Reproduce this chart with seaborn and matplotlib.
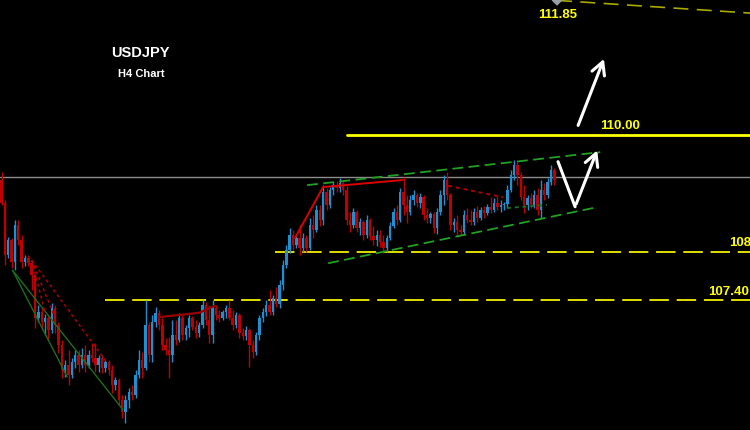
import numpy as np
import pandas as pd
import seaborn as sns
from matplotlib import pyplot as plt

# USDJPY H4 candles (open of each bar = previous close)
first_open = 109.29
closes = [108.93, 108.11, 108.35, 108.00, 108.58, 108.35, 108.00, 108.06, 107.98, 107.80,
          107.12, 107.21, 107.06, 107.12, 106.93, 107.27, 107.01, 106.69, 106.30, 106.38,
          106.22, 106.43, 106.54, 106.38, 106.54, 106.38, 106.54, 106.49, 106.38, 106.49,
          106.33, 106.43, 106.30, 106.06, 106.14, 105.83, 105.64, 105.83, 105.95, 105.90,
          106.22, 106.46, 106.33, 107.01, 106.54, 107.06, 107.20, 107.01, 106.69, 106.61,
          106.54, 106.85, 106.77, 107.12, 106.85, 106.96, 107.12, 106.98, 106.88, 107.01,
          107.32, 107.09, 106.85, 107.27, 107.17, 107.12, 107.21, 107.27, 107.12, 107.01,
          107.17, 106.88, 106.83, 106.93, 106.69, 106.58, 106.85, 107.12, 107.21, 107.32,
          107.21, 107.43, 107.34, 107.64, 107.95, 108.19, 108.43, 108.27, 108.38, 108.22,
          108.38, 108.22, 108.58, 108.50, 108.82, 108.66, 109.10, 108.90, 109.13, 109.21,
          109.17, 109.24, 109.13, 108.66, 108.58, 108.79, 108.54, 108.63, 108.43, 108.66,
          108.41, 108.35, 108.43, 108.32, 108.22, 108.38, 108.57, 108.79, 108.66, 109.10,
          108.90, 108.79, 108.98, 109.06, 108.93, 109.02, 108.74, 108.69, 108.76, 108.54,
          108.79, 109.06, 109.29, 109.06, 108.58, 108.63, 108.50, 108.47, 108.74, 108.66,
          108.63, 108.79, 108.69, 108.82, 108.77, 108.87, 108.82, 108.93, 108.87, 108.90,
          108.91, 109.13, 109.37, 109.53, 109.37, 109.02, 108.90, 109.01, 108.90, 109.06,
          108.82, 109.13, 109.06, 109.26, 109.45, 109.29]
highs = [109.42, 108.98, 108.39, 108.38, 108.66, 108.66, 108.43, 108.11, 108.11, 108.03,
         107.80, 107.32, 107.27, 107.18, 107.17, 107.35, 107.32, 107.06, 106.77, 106.46,
         106.61, 106.49, 106.61, 106.61, 106.64, 106.69, 106.61, 106.72, 106.72, 106.54,
         106.54, 106.46, 106.46, 106.38, 106.19, 106.17, 105.90, 105.90, 106.02, 106.06,
         106.30, 106.61, 106.58, 107.40, 107.06, 107.17, 107.29, 107.24, 107.12, 106.80,
         106.82, 107.09, 107.09, 107.20, 107.17, 107.01, 107.17, 107.15, 107.09, 107.06,
         107.40, 107.37, 107.32, 107.40, 107.32, 107.24, 107.24, 107.32, 107.40, 107.24,
         107.21, 107.20, 106.96, 106.99, 106.96, 106.77, 106.90, 107.17, 107.27, 107.40,
         107.56, 107.48, 107.61, 107.72, 108.03, 108.27, 108.54, 108.50, 108.43, 108.58,
         108.46, 108.43, 108.69, 108.74, 108.90, 108.90, 109.21, 109.17, 109.18, 109.26,
         109.28, 109.32, 109.28, 109.20, 108.79, 108.85, 108.82, 108.69, 108.66, 108.74,
         108.69, 108.57, 108.50, 108.50, 108.43, 108.43, 108.63, 108.85, 108.90, 109.17,
         109.34, 109.06, 109.06, 109.13, 109.09, 109.09, 109.06, 108.85, 108.79, 108.79,
         108.85, 109.13, 109.37, 109.42, 109.09, 108.69, 108.74, 108.58, 108.82, 108.85,
         108.82, 108.85, 108.88, 108.87, 108.88, 108.91, 109.02, 109.01, 109.04, 108.98,
         108.94, 109.21, 109.45, 109.61, 109.58, 109.42, 109.21, 109.06, 109.09, 109.13,
         109.17, 109.29, 109.24, 109.32, 109.53, 109.48]
lows = [108.90, 107.95, 108.06, 107.91, 107.87, 108.27, 107.91, 107.94, 107.94, 107.56,
        106.96, 107.06, 106.93, 106.85, 106.77, 106.88, 106.88, 106.57, 106.17, 106.19,
        106.06, 106.17, 106.33, 106.27, 106.33, 106.27, 106.33, 106.43, 106.27, 106.27,
        106.25, 106.27, 106.22, 105.94, 105.98, 105.75, 105.54, 105.46, 105.70, 105.83,
        105.86, 106.17, 106.17, 106.30, 106.43, 106.43, 106.98, 106.93, 106.61, 106.54,
        106.17, 106.43, 106.69, 106.74, 106.77, 106.77, 106.82, 106.93, 106.80, 106.82,
        106.96, 107.01, 106.72, 106.72, 107.09, 107.06, 107.09, 107.12, 107.09, 106.93,
        106.96, 106.80, 106.77, 106.77, 106.35, 106.49, 106.54, 106.77, 107.06, 107.15,
        107.17, 107.17, 107.29, 107.27, 107.56, 107.91, 108.14, 108.19, 108.22, 108.11,
        108.16, 108.16, 108.19, 108.38, 108.47, 108.57, 108.58, 108.82, 108.85, 109.06,
        109.10, 109.10, 109.06, 108.58, 108.47, 108.54, 108.47, 108.43, 108.35, 108.38,
        108.35, 108.27, 108.25, 108.24, 108.14, 108.16, 108.35, 108.54, 108.58, 108.63,
        108.74, 108.61, 108.74, 108.90, 108.87, 108.85, 108.66, 108.61, 108.61, 108.46,
        108.44, 108.74, 108.90, 108.98, 108.50, 108.47, 108.41, 108.43, 108.43, 108.61,
        108.58, 108.58, 108.63, 108.66, 108.69, 108.74, 108.77, 108.79, 108.82, 108.79,
        108.82, 108.85, 109.10, 109.29, 109.21, 108.98, 108.77, 108.82, 108.85, 108.85,
        108.74, 108.69, 108.98, 109.01, 109.21, 109.21]

# horizontal levels
level_resist = 110.00
level_mid = 108.15
level_low = 107.40
level_grey = 109.34
level_target = 111.85

# trend / channel lines: (bar, price) pairs
channel_top = [(91.2, 109.21), (178.7, 109.73)]
channel_bottom = [(97.5, 107.98), (176.6, 108.85)]
wedge_a = [(3.3, 107.87), (19.6, 106.19)]
wedge_b = [(3.3, 107.87), (36.3, 105.67)]
fan_lines = [[(9.0, 108.03), (13.0, 107.21)],
             [(9.0, 108.03), (16.0, 107.12)],
             [(9.0, 108.03), (32.4, 106.35)]]
base_line = [(46.7, 107.13), (59.0, 107.20), (63.7, 107.31)]
rally_line = [(87.6, 108.38), (96.0, 109.18), (119.6, 109.29)]
dip_line = [(133.3, 109.20), (149.7, 109.02)]
flat_dots = [(150.9, 108.85), (162.8, 108.90)]
target_line = [(165.8, 112.12), (223.4, 111.92)]
arrow_up = [(171.8, 110.11), (180.1, 111.24)]
arrow_v = [(166.1, 109.58), (171.2, 108.87), (178.1, 109.80)]

BLUE = '#1e8fd0'
RED = '#c00000'
YELLOW = '#ffff00'

sns.set_theme(style='dark', rc={'axes.facecolor': 'black', 'figure.facecolor': 'black'})
plt.rcParams['font.family'] = ['Liberation Sans', 'DejaVu Sans']

df = pd.DataFrame({'close': closes, 'high': highs, 'low': lows})
df['open'] = [first_open] + closes[:-1]
df['bar'] = np.arange(len(df))
df['up'] = df['close'] >= df['open']

fig = plt.figure(figsize=(7.5, 4.3), dpi=100)
ax = fig.add_axes([0, 0, 1, 1])
ax.set_facecolor('black')

x_max = 223.4
ax.set_xlim(-0.45, x_max)
ax.set_ylim(105.354, 112.126)

# grey reference line and levels
ax.axhline(level_grey, color='#8c8c8c', lw=1)
ax.plot([103.1, x_max], [level_resist] * 2, color=YELLOW, lw=2)
ax.plot([81.6, x_max], [level_mid] * 2, color='#e0e000', lw=1.4, ls=(0, (10, 4)))
ax.plot([30.9, x_max], [level_low] * 2, color='#e0e000', lw=1.4, ls=(0, (10, 4)))
ax.plot(*zip(*target_line), color='#a8a800', lw=1.2, ls=(0, (9, 5)))
sns.scatterplot(x=[target_line[0][0]], y=[target_line[0][1]], marker='D', s=30,
                color='#9aa0a8', edgecolor='none', ax=ax, zorder=5)

# candles
colors = np.where(df['up'], BLUE, RED)
ax.vlines(df['bar'], df['low'], df['high'], colors=colors, lw=1, zorder=3)
body = (df['close'] - df['open']).abs().clip(lower=0.012)
ax.bar(df['bar'], body, bottom=df[['open', 'close']].min(axis=1), width=0.72,
       color=colors, linewidth=0, zorder=3)

# pattern lines
for seg in (channel_top, channel_bottom):
    ax.plot(*zip(*seg), color='#22a022', lw=1.3, ls=(0, (6, 3)), zorder=4)
for seg in (wedge_a, wedge_b):
    ax.plot(*zip(*seg), color='#1d6e1d', lw=1, zorder=4)
for seg in fan_lines:
    ax.plot(*zip(*seg), color='#b00000', lw=1.1, ls=(0, (2, 2)), zorder=4)
ax.plot(*zip(*base_line), color='#990000', lw=1.6, zorder=4)
ax.plot(*zip(*rally_line), color='#dd0000', lw=1.4, zorder=4)
ax.plot(*zip(*dip_line), color='#b00000', lw=1.4, ls=(0, (2, 2)), zorder=4)
ax.plot(*zip(*flat_dots), color='#1d6e1d', lw=1.4, ls=(0, (2, 2)), zorder=4)

# projected moves
arrow_kw = dict(arrowstyle='->,head_length=0.75,head_width=0.4', color='white', lw=2.2)
ax.annotate('', xy=arrow_up[1], xytext=arrow_up[0], arrowprops=arrow_kw, zorder=6)
ax.plot(*zip(*arrow_v[:2]), color='white', lw=2.2, zorder=6)
ax.annotate('', xy=arrow_v[2], xytext=arrow_v[1], arrowprops=arrow_kw, zorder=6)

# labels (the 108.15 tag runs off the right edge, as in the source chart)
lab = dict(color=YELLOW, fontsize=9.5, fontweight='bold', va='center', ha='left')
ax.text(160.2, level_target + 0.04, f'{level_target:.2f}', **lab)
ax.text(178.7, level_resist + 0.14, f'{level_resist:.2f}', **lab)
ax.text(217.2, level_mid + 0.15, f'{level_mid:.2f}', **lab)
ax.text(x_max - 0.3, level_low + 0.13, f'{level_low:.2f}', ha='right',
        **{k: v for k, v in lab.items() if k != 'ha'})

ax.text(0.187, 0.877, 'USDJPY', transform=ax.transAxes, color='white',
        fontsize=10.5, fontweight='bold', ha='center', va='center')
ax.text(0.188, 0.828, 'H4 Chart', transform=ax.transAxes, color='white',
        fontsize=8, fontweight='bold', ha='center', va='center')

ax.set_axis_off()
fig.savefig('out.png', dpi=100, facecolor='black')
